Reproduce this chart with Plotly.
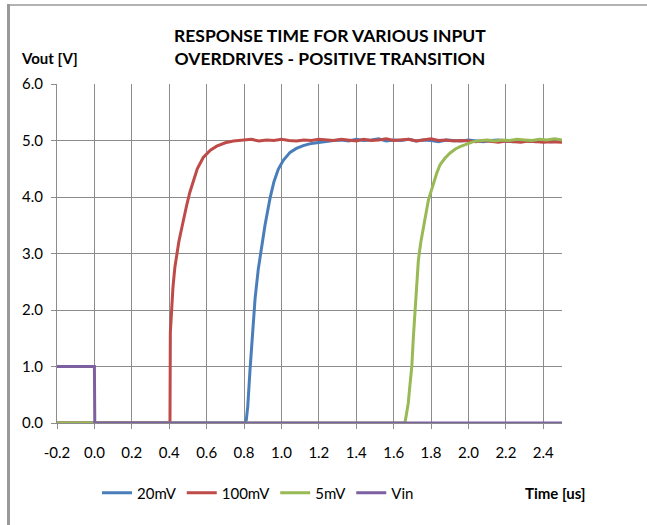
import plotly.graph_objects as go

# ---------------- data ----------------
t_20mV = [-0.2, 0.805, 0.812, 0.82, 0.832, 0.846, 0.859, 0.876, 0.894, 0.912, 0.939,
          0.96, 0.983, 1.01, 1.046, 1.08, 1.117, 1.15, 1.189, 1.23, 1.278,
          1.32, 1.36, 1.40, 1.44, 1.48, 1.52, 1.56, 1.60, 1.64, 1.68, 1.72, 1.76,
          1.80, 1.84, 1.88, 1.92, 1.96, 2.00, 2.04, 2.08, 2.12, 2.16, 2.20, 2.24,
          2.28, 2.32, 2.36, 2.40, 2.44, 2.48, 2.50]
v_20mV = [0.0, 0.0, 0.05, 0.3, 0.94, 1.62, 2.2, 2.72, 3.12, 3.5, 3.98,
          4.27, 4.49, 4.65, 4.79, 4.86, 4.91, 4.94, 4.96, 4.98, 5.0,
          5.01, 4.99, 5.02, 5.0, 5.01, 5.03, 4.99, 5.01, 5.0, 5.02, 4.99, 5.01,
          5.0, 4.98, 5.01, 5.0, 4.99, 5.01, 5.0, 4.98, 5.0, 5.01, 4.99, 4.98,
          5.0, 4.99, 4.98, 5.0, 4.98, 4.99, 4.98]

t_100mV = [-0.2, 0.404, 0.406, 0.412, 0.42, 0.43, 0.44, 0.452, 0.465, 0.478, 0.493,
           0.51, 0.529, 0.55, 0.582, 0.62, 0.654, 0.70, 0.743, 0.80, 0.84, 0.88,
           0.92, 0.96, 1.00, 1.04, 1.08, 1.12, 1.16, 1.20, 1.24, 1.28, 1.32, 1.36,
           1.40, 1.44, 1.48, 1.52, 1.56, 1.60, 1.64, 1.68, 1.72, 1.76, 1.80, 1.84,
           1.88, 1.92, 1.96, 2.00, 2.04, 2.08, 2.12, 2.16, 2.20, 2.24, 2.28, 2.32,
           2.36, 2.40, 2.44, 2.48, 2.50]
v_100mV = [0.0, 0.0, 1.6, 2.0, 2.4, 2.75, 3.0, 3.22, 3.42, 3.63, 3.85,
           4.08, 4.3, 4.5, 4.7, 4.83, 4.9, 4.96, 4.99, 5.01, 5.02, 4.99,
           5.01, 5.0, 5.02, 5.0, 4.99, 5.01, 5.0, 5.02, 5.01, 5.0, 5.02, 5.01,
           4.99, 5.02, 5.0, 5.01, 5.03, 5.0, 5.01, 5.02, 4.99, 5.01, 5.03, 5.0,
           5.01, 4.99, 5.0, 4.99, 4.98, 5.0, 4.99, 4.97, 4.99, 4.98, 4.97, 4.99,
           4.98, 4.97, 4.98, 4.97, 4.97]

t_5mV = [-0.2, 1.66, 1.668, 1.678, 1.685, 1.697, 1.705, 1.714, 1.723, 1.732, 1.745,
         1.759, 1.772, 1.786, 1.80, 1.812, 1.83, 1.848, 1.875, 1.902, 1.93, 1.955,
         1.99, 2.026, 2.07, 2.10, 2.14, 2.18, 2.22, 2.26, 2.30, 2.34, 2.38, 2.42,
         2.46, 2.50]
v_5mV = [0.0, 0.0, 0.15, 0.35, 0.6, 1.0, 1.5, 2.0, 2.45, 2.88, 3.2,
         3.47, 3.73, 3.95, 4.1, 4.24, 4.42, 4.57, 4.69, 4.78, 4.85, 4.89,
         4.94, 4.98, 5.0, 5.01, 4.99, 5.01, 5.0, 5.02, 5.01, 5.0, 5.02, 5.01,
         5.03, 5.01]

t_Vin = [-0.2, 0.0, 0.002, 2.5]
v_Vin = [1.0, 1.0, 0.0, 0.0]

series_names = ["20mV", "100mV", "5mV", "Vin"]
series_colors = ["#4A7EBB", "#BE4B48", "#98B954", "#7D60A0"]

x_ticks = [-0.2, 0.0, 0.2, 0.4, 0.6, 0.8, 1.0, 1.2, 1.4, 1.6, 1.8, 2.0, 2.2, 2.4]
x_tick_labels = ["-0.2", "0.0", "0.2", "0.4", "0.6", "0.8", "1.0", "1.2", "1.4",
                 "1.6", "1.8", "2.0", "2.2", "2.4"]
y_ticks = [0, 1, 2, 3, 4, 5, 6]
y_tick_labels = ["0.0", "1.0", "2.0", "3.0", "4.0", "5.0", "6.0"]

title_lines = ["RESPONSE TIME FOR VARIOUS INPUT", "OVERDRIVES - POSITIVE TRANSITION"]
y_title = "Vout [V]"
x_title = "Time [us]"

# ---------------- figure ----------------
FONT = "Lato"
GRID = "#8C8C8C"
fig = go.Figure()
for t, v, name, col in zip([t_20mV, t_100mV, t_5mV, t_Vin],
                           [v_20mV, v_100mV, v_5mV, v_Vin],
                           series_names, series_colors):
    fig.add_trace(go.Scatter(x=t, y=v, mode="lines", name=name,
                             line=dict(color=col, width=3)))

W, H = 647, 525
L, R, T, B = 57, 85, 84, 102
pw, ph = W - L - R, H - T - B

def px_x(p):
    return (p - L) / pw

def px_y(p):
    return (H - B - p) / ph

fig.update_layout(
    width=W, height=H,
    margin=dict(l=L, r=R, t=T, b=B),
    paper_bgcolor="white", plot_bgcolor="white",
    font=dict(family=FONT, size=15, color="#000000"),
    showlegend=True,
    legend=dict(orientation="h", x=px_x(97), y=px_y(493), xanchor="left", yanchor="middle",
                font=dict(family=FONT, size=15, color="#000000"),
                bgcolor="rgba(0,0,0,0)", itemwidth=30, tracegroupgap=0),
    xaxis=dict(range=[-0.2, 2.5], tickvals=x_ticks, ticktext=x_tick_labels,
               showgrid=True, gridcolor=GRID, gridwidth=1, zeroline=False,
               showline=True, linecolor=GRID, linewidth=1,
               ticks="outside", ticklen=5, tickcolor=GRID,
               ticklabelstandoff=11, fixedrange=True),
    yaxis=dict(range=[0, 6], tickvals=y_ticks, ticktext=y_tick_labels,
               showgrid=True, gridcolor=GRID, gridwidth=1, zeroline=False,
               showline=True, linecolor=GRID, linewidth=1,
               ticks="outside", ticklen=5, tickcolor=GRID,
               ticklabelstandoff=5, fixedrange=True),
)

fig.add_annotation(text=title_lines[0] + "<br>" + title_lines[1],
                   xref="paper", yref="paper", x=px_x(330), y=px_y(47),
                   xanchor="center", yanchor="middle", showarrow=False,
                   font=dict(family=FONT, size=17.5, color="#000000", weight="bold"))
fig.add_annotation(text=y_title, xref="paper", yref="paper", x=px_x(19), y=px_y(58),
                   xanchor="left", yanchor="middle", showarrow=False,
                   font=dict(family=FONT, size=15, color="#000000", weight="bold"))
fig.add_annotation(text=x_title, xref="paper", yref="paper", x=px_x(523), y=px_y(493),
                   xanchor="left", yanchor="middle", showarrow=False,
                   font=dict(family=FONT, size=15, color="#000000", weight="bold"))

# outer frame (left and top border)
fig.add_shape(type="line", xref="paper", yref="paper", x0=px_x(8.5), x1=px_x(8.5),
              y0=px_y(4), y1=px_y(530), line=dict(color="#999999", width=3))
fig.add_shape(type="line", xref="paper", yref="paper", x0=px_x(7), x1=px_x(650),
              y0=px_y(5), y1=px_y(5), line=dict(color="#999999", width=1.5))

fig.write_html("out.html")
